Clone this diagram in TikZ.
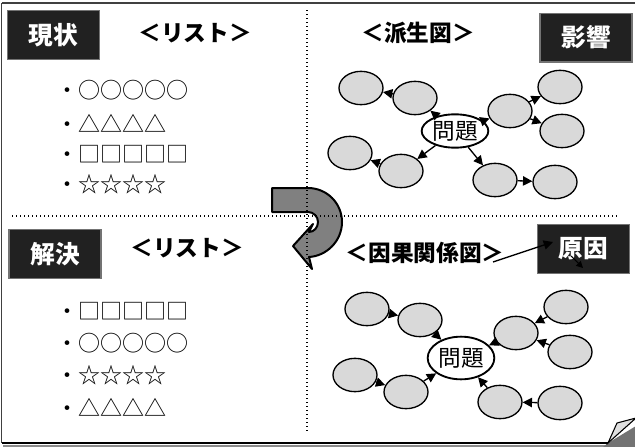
\documentclass[tikz,border=0pt]{standalone}
\usepackage{fontspec}
\newfontfamily\jp{Noto Sans CJK JP}
\usetikzlibrary{shapes.geometric,arrows.meta}
\begin{document}
\begin{tikzpicture}[x=0.75pt,y=-0.75pt,
  bubble/.style={ellipse,draw,fill=black!15,line width=1pt,minimum width=33pt,minimum height=25pt,inner sep=0pt},
  core/.style={ellipse,draw,fill=white,line width=1.4pt,minimum width=50pt,inner sep=0pt,font=\jp\fontsize{17}{18}\selectfont},
  link/.style={line width=1pt,-{Triangle[length=7pt,width=7pt]}},
  tag/.style={fill=black!87,draw=black!55,line width=1pt,minimum width=69pt,minimum height=36.5pt,text=white,font=\jp\bfseries\fontsize{18.5}{20}\selectfont},
  heading/.style={font=\jp\bfseries\fontsize{17}{18}\selectfont,inner sep=0pt},
  item/.style={anchor=west,font=\jp\fontsize{16.5}{18}\selectfont,inner sep=0pt},
  sep/.style={dotted,line width=1pt}]
\useasboundingbox (0,0) rectangle (635,446);
% frame
\draw[line width=1.5pt,black!75] (1.5,3) -- (640,3);
\draw[line width=1pt,black!75] (1.5,3) -- (1.5,443);
\draw[line width=1.5pt,black!45] (3,445.5) -- (606,445.5);
\draw[line width=2pt] (1.5,443) -- (608,443);
% page curl
\fill[black!55] (608,443) -- (636,426) -- (636,447) -- (603,447) -- cycle;
\filldraw[fill=black!12,draw=black,line width=0.8pt] (608,443) -- (617,423) -- (636,418) -- cycle;
% tags
\node[tag] (t1) at (53.5,35) {現状};
\node[tag] (t2) at (586,37.5) {影響};
\node[tag] (t3) at (55,254) {解決};
\node[tag] (t4) at (583.5,249) {原因};
% headings
\node[heading] (h1) at (195,33) {＜リスト＞};
\node[heading] (h2) at (418,33) {＜派生図＞};
\node[heading] (h3) at (187,248) {＜リスト＞};
\node[heading] (h4) at (425,253) {＜因果関係図＞};
% lists
\node[item] (l1) at (56,90) {・○○○○○};
\node[item] (l2) at (56,123) {・△△△△};
\node[item] (l3) at (56,154) {・□□□□□};
\node[item] (l4) at (56,184) {・☆☆☆☆};
\node[item] (m1) at (56,311) {・□□□□□};
\node[item] (m2) at (56,343) {・○○○○○};
\node[item] (m3) at (56,375) {・☆☆☆☆};
\node[item] (m4) at (56,407) {・△△△△};
% top graph
\node[bubble] (a1) at (361,88) {};
\node[bubble] (a2) at (415,98) {};
\node[core,minimum height=25pt] (p1) at (455,131) {問題};
\node[bubble] (a3) at (510,111) {};
\node[bubble] (a4) at (560,87) {};
\node[bubble] (a5) at (562,131) {};
\node[bubble] (a6) at (350,153) {};
\node[bubble] (a7) at (401,171) {};
\node[bubble] (a8) at (495,180) {};
\node[bubble] (a9) at (555,182) {};
\draw[link] (p1) -- (a2);
\draw[link] (a2) -- (a1);
\draw[link] (p1) -- (a3);
\draw[link] (a3) -- (a4);
\draw[link] (a3) -- (a5);
\draw[link] (p1) -- (a7);
\draw[link] (a7) -- (a6);
\draw[link] (p1) -- (a8);
\draw[link] (a8) -- (a9);
% bottom graph
\node[bubble] (b1) at (367,309) {};
\node[bubble] (b2) at (420,320) {};
\node[core,minimum height=32pt] (p2) at (461,358) {問題};
\node[bubble] (b3) at (516,333) {};
\node[bubble] (b4) at (566,307) {};
\node[bubble] (b5) at (570,352) {};
\node[bubble] (b6) at (355,375) {};
\node[bubble] (b7) at (406,392) {};
\node[bubble] (b8) at (500,402) {};
\node[bubble] (b9) at (560,403) {};
\draw[link] (b1) -- (b2);
\draw[link] (b2) -- (p2);
\draw[link] (b4) -- (b3);
\draw[link] (b5) -- (b3);
\draw[link] (b3) -- (p2);
\draw[link] (b6) -- (b7);
\draw[link] (b7) -- (p2);
\draw[link] (b9) -- (b8);
\draw[link] (b8) -- (p2);
% heading arrow
\coordinate (c1) at (493,262);
\coordinate (c2) at (553,242);
\coordinate (c3) at (571,256);
\coordinate (c4) at (583,268);
\draw[link] (c1) -- (c2);
\draw[link,line width=0.8pt,-{Triangle[length=5pt,width=5pt]}] (c3) -- (c4);
% U-turn arrow
\filldraw[fill=black!50,draw=black,line width=1.5pt,line join=round]
  (272,188) -- (308,188) .. controls (326.8,188) and (342,203.2) .. (342,222)
  .. controls (342,240.8) and (326.8,256) .. (309,257) -- (312,269) -- (293,246)
  -- (313,224) -- (309,232) .. controls (314,232) and (318,227.5) .. (318,222)
  .. controls (318,216.5) and (313.5,212) .. (308,212) -- (272,212) -- cycle;
% separators
\draw[sep] (307,10) -- (307,432);
\draw[sep] (12,216) -- (619,216);
\end{tikzpicture}
\end{document}
